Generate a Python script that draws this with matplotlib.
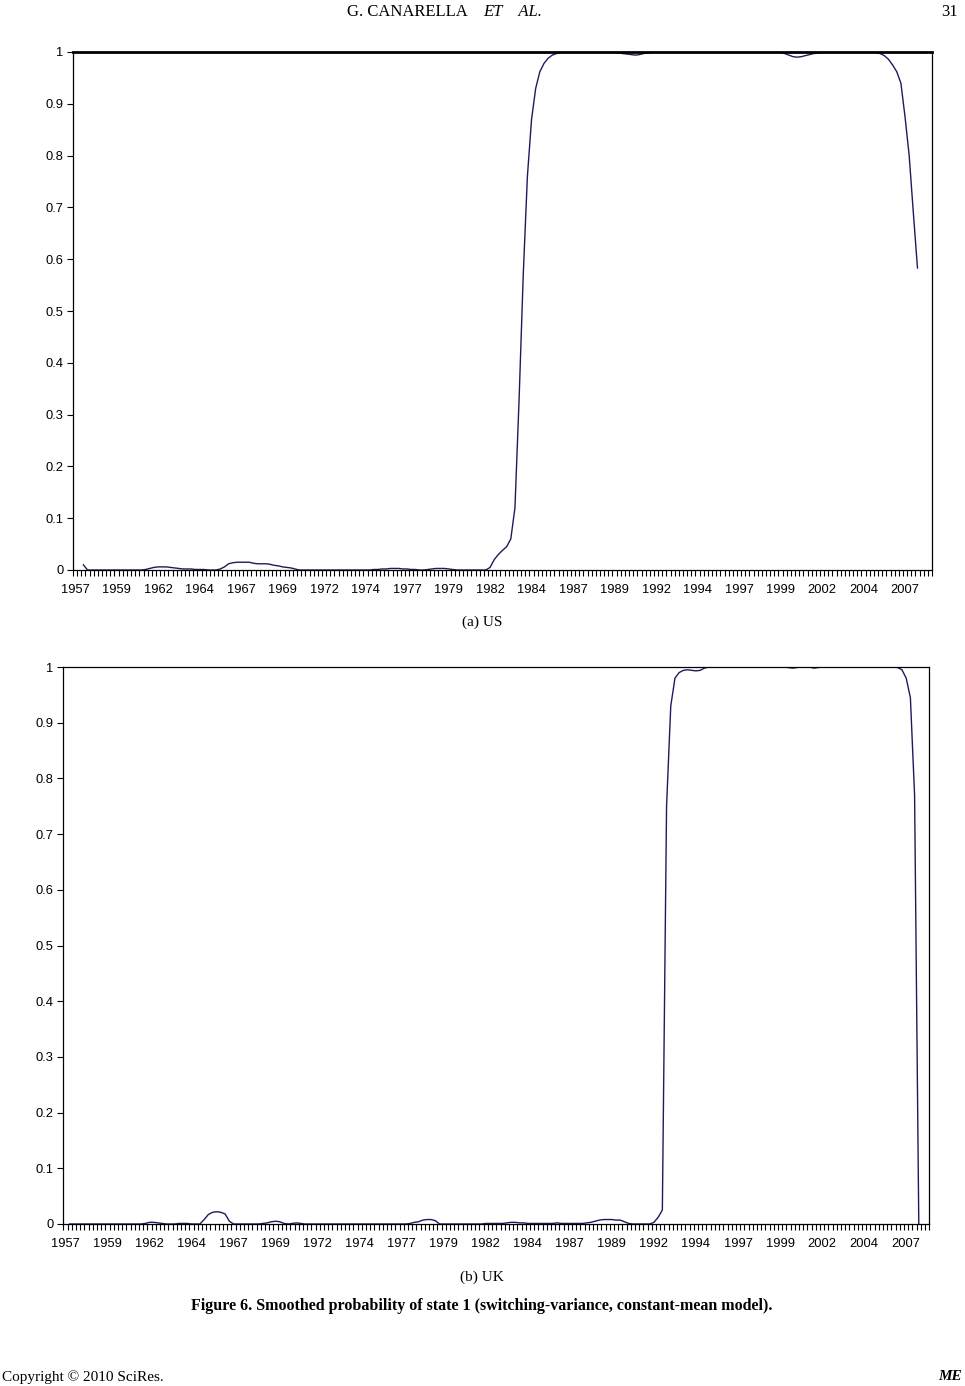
import numpy as np
import matplotlib
matplotlib.use("Agg")
import matplotlib.pyplot as plt
from matplotlib.ticker import FixedLocator, NullFormatter

nan = np.nan

# quarterly categories from 1957Q1, one label every 10 quarters
tick_labels = ["1957", "1959", "1962", "1964", "1967", "1969", "1972", "1974",
               "1977", "1979", "1982", "1984", "1987", "1989", "1992", "1994",
               "1997", "1999", "2002", "2004", "2007"]
n_cat_us = 207
n_cat_uk = 206

# smoothed probability of state 1, US
us_prob = [
    nan, nan, 0.010, 0, 0, 0, 0, 0, 0, 0,
    0, 0, 0, 0, 0, 0, 0, 0.001, 0.003, 0.005,
    0.006, 0.006, 0.006, 0.005, 0.004, 0.003, 0.002, 0.002, 0.002, 0.001,
    0.001, 0.001, 0, 0, 0, 0.002, 0.006, 0.012, 0.014, 0.015,
    0.015, 0.015, 0.015, 0.013, 0.012, 0.012, 0.012, 0.011, 0.009, 0.008,
    0.006, 0.005, 0.004, 0.002, 0, 0, 0, 0, 0, 0,
    0, 0, 0, 0, 0, 0, 0, 0, 0, 0,
    0, 0, 0.001, 0.001, 0.002, 0.002, 0.003, 0.003, 0.003, 0.002,
    0.002, 0.001, 0.001, 0, 0, 0.001, 0.002, 0.003, 0.003, 0.003,
    0.002, 0.001, 0, 0, 0, 0, 0, 0, 0, 0,
    0.005, 0.020, 0.030, 0.038, 0.045, 0.060, 0.120, 0.330, 0.570, 0.760,
    0.870, 0.930, 0.962, 0.978, 0.988, 0.994, 0.997, 0.999, 1, 1,
    1, 1, 1, 1, 1, 1, 1, 1, 1, 1,
    0.999, 0.998, 0.997, 0.996, 0.995, 0.994, 0.995, 0.997, 0.998, 0.999,
    1, 1, 1, 1, 1, 1, 1, 1, 1, 1,
    1, 1, 1, 1, 1, 1, 1, 1, 1, 1,
    1, 1, 1, 1, 1, 1, 1, 1, 1, 1,
    0.999, 0.997, 0.994, 0.991, 0.990, 0.991, 0.993, 0.995, 0.997, 0.998,
    0.999, 1, 1, 1, 1, 1, 1, 1, 1, 1,
    1, 1, 1, 0.999, 0.997, 0.993, 0.986, 0.975, 0.962, 0.940,
    0.875, 0.800, 0.690, 0.583,
]

# smoothed probability of state 1, UK
uk_prob = [
    nan, 0, 0, 0, 0, 0, 0, 0, 0, 0,
    0, 0, 0, 0, 0, 0, 0, 0, 0, 0.001,
    0.003, 0.003, 0.002, 0.001, 0, 0, 0, 0.001, 0.001, 0.001,
    0, 0, 0, 0.008, 0.017, 0.021, 0.022, 0.021, 0.018, 0.005,
    0, 0, 0, 0, 0, 0, 0, 0.001, 0.002, 0.004,
    0.005, 0.004, 0.001, 0, 0.001, 0.002, 0.001, 0, 0, 0,
    0, 0, 0, 0, 0, 0, 0, 0, 0, 0,
    0, 0, 0, 0, 0, 0, 0, 0, 0, 0,
    0, 0, 0.001, 0.003, 0.004, 0.007, 0.008, 0.008, 0.006, 0,
    0, 0, 0, 0, 0, 0, 0, 0, 0, 0,
    0.001, 0.001, 0.001, 0.001, 0.001, 0.002, 0.003, 0.003, 0.002, 0.002,
    0.001, 0.001, 0.001, 0.001, 0.001, 0.001, 0.001, 0.002, 0.001, 0.001,
    0.001, 0.001, 0.001, 0.001, 0.002, 0.003, 0.005, 0.007, 0.008, 0.008,
    0.008, 0.007, 0.007, 0.004, 0.001, 0, 0, 0, 0, 0,
    0.003, 0.012, 0.025, 0.750, 0.930, 0.980, 0.990, 0.994, 0.995, 0.994,
    0.993, 0.994, 0.998, 1, 1, 1, 1, 1, 1, 1,
    1, 1, 1, 1, 1, 1, 1, 1, 1, 1,
    1, 1, 0.999, 0.998, 0.999, 1, 1, 1, 0.998, 0.999,
    1, 1, 1, 1, 1, 1, 1, 1, 1, 1,
    1, 1, 1, 1, 1, 1, 1, 1, 0.999, 0.995,
    0.980, 0.945, 0.770, 0.0,
]

line_color = "#1c1c5c"
sans = ["Liberation Sans", "DejaVu Sans"]
serif = ["Liberation Serif", "DejaVu Serif"]

fig = plt.figure(figsize=(9.65, 13.86), dpi=100)


def draw_panel(ax, values, n_cat):
    x = np.arange(len(values))
    ax.plot(x, values, color=line_color, lw=1.0)
    ax.set_xlim(-0.5, n_cat - 0.5)
    ax.set_ylim(0, 1)
    ax.set_yticks(np.arange(0, 1.01, 0.1))
    ax.set_yticklabels(["0", "0.1", "0.2", "0.3", "0.4", "0.5",
                        "0.6", "0.7", "0.8", "0.9", "1"])
    ax.set_xticks(np.arange(len(tick_labels)) * 10)
    ax.set_xticklabels(tick_labels)
    ax.xaxis.set_minor_locator(FixedLocator(np.arange(n_cat + 1) - 0.5))
    ax.xaxis.set_minor_formatter(NullFormatter())
    ax.tick_params(axis="x", which="major", length=0, pad=10)
    ax.tick_params(axis="x", which="minor", length=4, width=0.8, direction="out")
    ax.tick_params(axis="y", which="major", length=4, width=0.8, pad=3)
    for lab in ax.get_xticklabels() + ax.get_yticklabels():
        lab.set_family(sans)
        lab.set_fontsize(9.3)
    for sp in ax.spines.values():
        sp.set_linewidth(0.9)
        sp.set_color("black")


ax1 = fig.add_axes([73 / 965, 1 - 570 / 1386, 859 / 965, 518 / 1386])
draw_panel(ax1, us_prob, n_cat_us)
ax1.spines["top"].set_linewidth(2.0)

ax2 = fig.add_axes([63.3 / 965, 1 - 1224 / 1386, 866 / 965, 557 / 1386])
draw_panel(ax2, uk_prob, n_cat_uk)

# page furniture
fig.text(483 / 965, 1 - 12 / 1386, "G. CANARELLA    ", family=serif, fontsize=12,
         ha="right", va="center")
fig.text(483 / 965, 1 - 12 / 1386, "ET    AL.", family=serif, fontsize=12,
         style="italic", ha="left", va="center")
fig.text(958 / 965, 1 - 12 / 1386, "31", family=serif, fontsize=12,
         ha="right", va="center")
fig.text(482 / 965, 1 - 622 / 1386, "(a) US", family=serif, fontsize=11,
         ha="center", va="center")
fig.text(482 / 965, 1 - 1277 / 1386, "(b) UK", family=serif, fontsize=11,
         ha="center", va="center")
fig.text(482 / 965, 1 - 1306 / 1386,
         "Figure 6. Smoothed probability of state 1 (switching-variance, constant-mean model).",
         family=serif, fontsize=11.5, weight="bold", ha="center", va="center")
fig.text(2 / 965, 1 - 1377 / 1386, "Copyright \u00a9 2010 SciRes.", family=serif,
         fontsize=11, ha="left", va="center")
fig.text(962 / 965, 1 - 1377 / 1386, "ME", family=serif, fontsize=11,
         weight="bold", style="italic", ha="right", va="center")

fig.savefig("out.png", dpi=100)
